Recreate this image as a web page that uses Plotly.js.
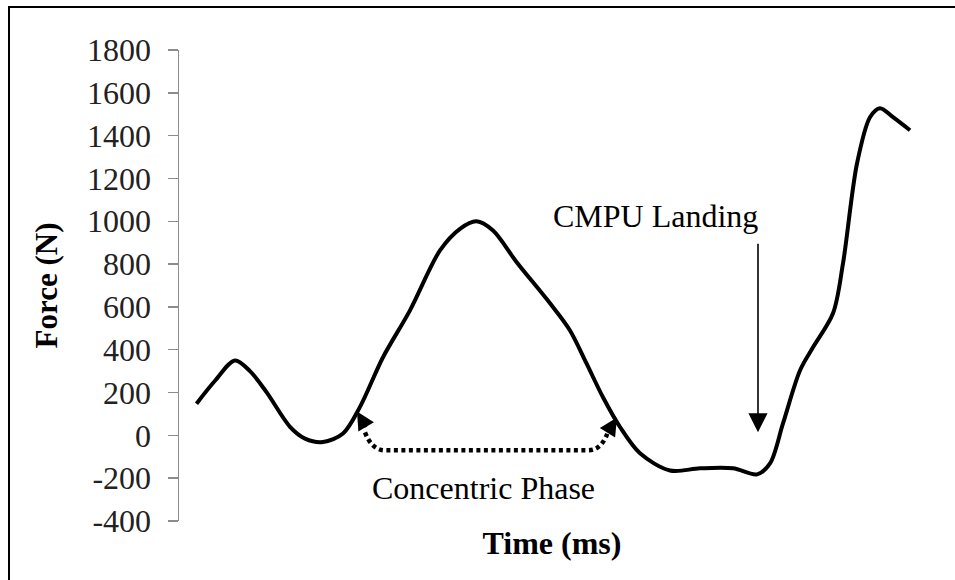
<!DOCTYPE html>
<html>
<head>
<meta charset="utf-8">
<script src="https://cdn.plot.ly/plotly-3.0.1.min.js"></script>
<style>
  html, body { margin: 0; padding: 0; background: #fff; overflow: hidden; }
  #chart { width: 955px; height: 580px; position: absolute; left: 0; top: 0; }
  #frame { position: absolute; left: 8px; top: 6px; width: 1000px; height: 700px;
           border-left: 2.5px solid #000; border-top: 2.5px solid #000; pointer-events: none; }
</style>
</head>
<body>
<div id="chart"></div>
<div id="frame"></div>
<script>
// Time (ms) and vertical ground reaction force (N)
const timeMs = [35, 72, 112, 142, 175, 222, 252, 288, 328, 362, 408, 462, 522, 562, 595, 628, 675, 742, 782, 815, 848, 882, 922, 982, 1042, 1108, 1156, 1182, 1208, 1242, 1268, 1308, 1328, 1356, 1382, 1402, 1428, 1462];
const forceN = [148, 255, 350, 300, 202, 40, -15, -31, 9, 133, 365, 584, 864, 965, 1000, 957, 810, 617, 490, 336, 178, 39, -84, -164, -154, -154, -182, -131, 56, 303, 411, 570, 803, 1270, 1486, 1528, 1486, 1425];

const tickVals = [-400, -200, 0, 200, 400, 600, 800, 1000, 1200, 1400, 1600, 1800];
const tickLabels = ['-400', '-200', '0', '200', '400', '600', '800', '1000', '1200', '1400', '1600', '1800'];

const serif = 'Liberation Serif, Times New Roman, serif';

const trace = {
  x: timeMs, y: forceN, type: 'scatter', mode: 'lines',
  line: { color: '#000', width: 4, shape: 'spline', smoothing: 0.9 },
  hoverinfo: 'skip', showlegend: false
};

const layout = {
  width: 955, height: 580,
  margin: { l: 179, r: 30, t: 50, b: 59, pad: 0 },
  paper_bgcolor: '#fff', plot_bgcolor: '#fff',
  showlegend: false,
  xaxis: {
    range: [0, 1492], showline: false, showticklabels: false, ticks: '',
    showgrid: false, zeroline: false, automargin: false,
    title: { text: 'Time (ms)', standoff: 10,
             font: { family: serif, size: 32, color: '#000', weight: 'bold' } }
  },
  yaxis: {
    range: [-400, 1800], tickvals: tickVals, ticktext: tickLabels,
    ticks: 'outside', ticklen: 10, tickwidth: 1.5, tickcolor: '#8c8c8c',
    showline: true, linecolor: '#8c8c8c', linewidth: 1.5,
    showgrid: false, zeroline: false, automargin: false, ticklabelstandoff: 10,
    tickfont: { family: serif, size: 32, color: '#222' },
    title: { text: 'Force (N)', standoff: 20,
             font: { family: serif, size: 31, color: '#000', weight: 'bold' } }
  },
  shapes: [
    { type: 'path', xref: 'x', yref: 'y',
      path: 'M372,14 Q386,-70 412,-70 L818,-70 Q848,-70 860,33',
      line: { color: '#000', width: 4.5, dash: '4px,3.5px' } }
  ],
  annotations: [
    { x: 952, y: 1023, xref: 'x', yref: 'y', text: 'CMPU Landing', showarrow: false,
      font: { family: serif, size: 32, color: '#000' } },
    { x: 608, y: -248, xref: 'x', yref: 'y', text: 'Concentric Phase', showarrow: false,
      font: { family: serif, size: 32, color: '#000' } },
    { x: 1158, y: 14, xref: 'x', yref: 'y', text: '', showarrow: true,
      ax: 0, ay: -190, arrowhead: 2, arrowwidth: 1.6, arrowsize: 2.4, arrowcolor: '#000' },
    { x: 356, y: 112, xref: 'x', yref: 'y', text: '', showarrow: true,
      ax: 10, ay: 17, arrowhead: 2, arrowwidth: 3, arrowsize: 1.2, arrowcolor: '#000' },
    { x: 876, y: 84, xref: 'x', yref: 'y', text: '', showarrow: true,
      ax: -10, ay: 16, arrowhead: 2, arrowwidth: 3, arrowsize: 1.2, arrowcolor: '#000' }
  ]
};

Plotly.newPlot('chart', [trace], layout, { displayModeBar: false, staticPlot: true });
</script>
</body>
</html>
